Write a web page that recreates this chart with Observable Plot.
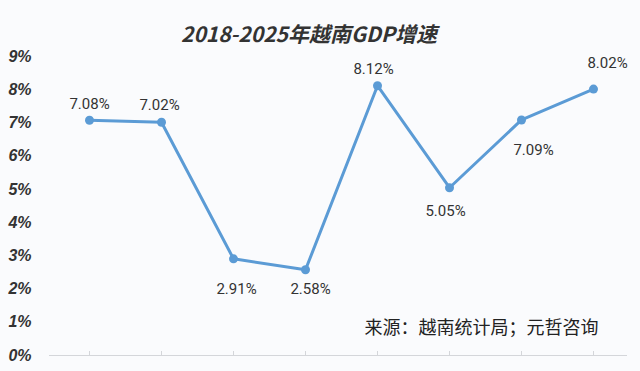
<!DOCTYPE html>
<html><head><meta charset="utf-8">
<script src="https://cdn.jsdelivr.net/npm/d3@7"></script>
<script src="https://cdn.jsdelivr.net/npm/@observablehq/plot@0.6"></script>
<style>
body{margin:0;background:#fafbfd;width:640px;height:371px;overflow:hidden}
#title{height:25px;padding-top:21px;padding-right:22px;text-align:center;font:italic bold 21px "Noto Sans CJK SC",sans-serif;line-height:25px;color:#333}
</style></head><body>
<div id="title"></div>
<div id="chart"></div>
<script>
const title = "2018-2025年越南GDP增速";
const years = [2018, 2019, 2020, 2021, 2022, 2023, 2024, 2025];
const growth = [7.08, 7.02, 2.91, 2.58, 8.12, 5.05, 7.09, 8.02];
const yTicks = [0, 1, 2, 3, 4, 5, 6, 7, 8, 9];
const source = "来源：越南统计局；元哲咨询";

document.getElementById("title").textContent = title;
const data = years.map((year, i) => ({year, value: growth[i]}));

// label placement (layout only)
const labelOffsets = [[0,-16],[-2,-17],[3,30],[5,19],[-4,-17],[-4,23],[12,30],[14,-26]];

const blue = "#5b9bd5";
const chart = Plot.plot({
  width: 640,
  height: 325,
  marginLeft: 49,
  marginRight: 13,
  marginTop: 10,
  marginBottom: 16,
  style: {background: "transparent", color: "#333"},
  x: {type: "point", domain: years, padding: 0.49, align: 0.535, axis: null},
  y: {domain: [0, 9], axis: null},
  marks: [
    Plot.ruleY([0], {stroke: "#d4d6da", strokeWidth: 1.2}),
    Plot.ruleX(years, {x: d => d, y1: 0, y2: 0.12, stroke: "#d4d6da", strokeWidth: 1}),
    Plot.axisY(yTicks, {label: null, tickSize: 0, tickPadding: 18, tickFormat: d => d + "%", fontSize: 16, fontWeight: "bold", fontStyle: "italic", fontFamily: "Liberation Sans", fill: "#333"}),
    Plot.line(data, {x: "year", y: "value", stroke: blue, strokeWidth: 3}),
    Plot.dot(data, {x: "year", y: "value", r: 4.5, fill: blue}),
    ...data.map((d, i) => Plot.text([d], {
      x: "year", y: "value", text: v => v.value.toFixed(2) + "%",
      dx: labelOffsets[i][0], dy: labelOffsets[i][1],
      fontSize: 15, fontFamily: "Roboto", fill: "#333"
    })),
    Plot.text([source], {frameAnchor: "bottom-right", textAnchor: "end", lineAnchor: "middle", dx: -29, dy: -27, fontSize: 18, fontFamily: "Noto Sans CJK SC", fill: "#222"})
  ]
});
document.getElementById("chart").appendChild(chart);
</script>
</body></html>
